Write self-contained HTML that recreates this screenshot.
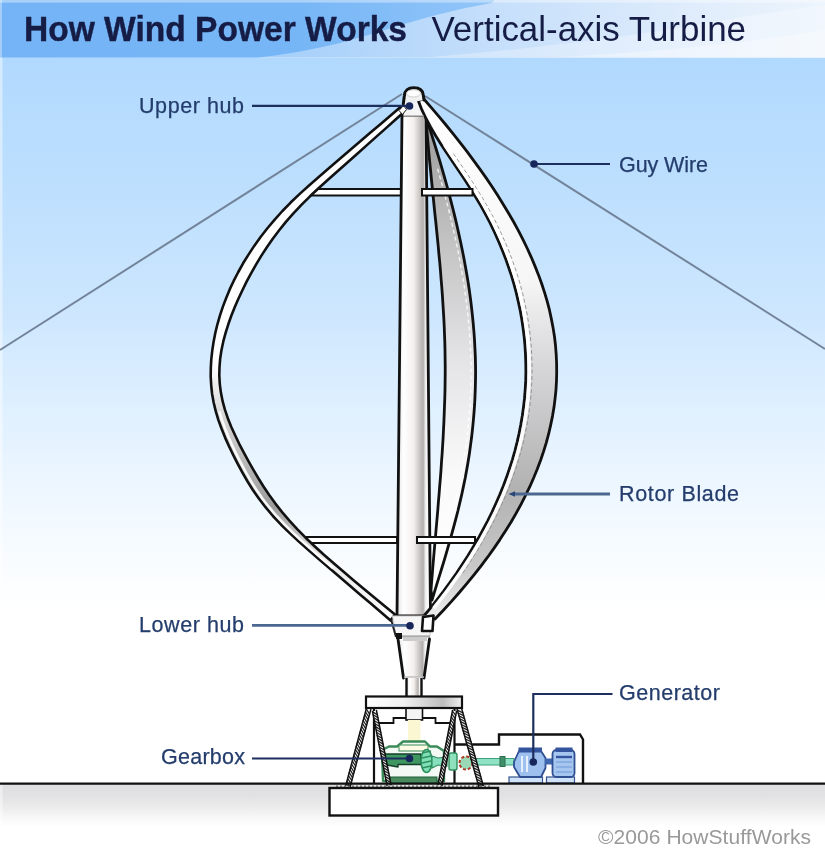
<!DOCTYPE html>
<html><head><meta charset="utf-8"><title>How Wind Power Works - Vertical-axis Turbine</title>
<style>
html,body{margin:0;padding:0;background:#fff;}
body{width:825px;height:859px;overflow:hidden;font-family:"Liberation Sans",sans-serif;}
svg{display:block;}
text{font-family:"Liberation Sans",sans-serif;}
.lbl{font-size:21.5px;fill:#243d6c;stroke:#243d6c;stroke-width:0.25;}
.ld{stroke:#1c2f5e;stroke-width:2.2;fill:none;}
.ld2{stroke:#4a6890;stroke-width:2.8;fill:none;}
.dot{fill:#17275c;}
</style></head>
<body>
<svg width="825" height="859" viewBox="0 0 825 859">
<defs>
<linearGradient id="sky" gradientUnits="userSpaceOnUse" x1="0" y1="58" x2="0" y2="784">
<stop offset="0" stop-color="#b1d9fe"/>
<stop offset="0.2" stop-color="#bfe0fe"/>
<stop offset="0.34" stop-color="#cce6fe"/>
<stop offset="0.47" stop-color="#ddefff"/>
<stop offset="0.58" stop-color="#ecf6ff"/>
<stop offset="0.67" stop-color="#f6fbff"/>
<stop offset="0.76" stop-color="#ffffff"/>
<stop offset="1" stop-color="#ffffff"/>
</linearGradient>
<linearGradient id="hdr" x1="0" y1="0" x2="1" y2="0">
<stop offset="0" stop-color="#9ccbf9"/>
<stop offset="0.35" stop-color="#a6d0fa"/>
<stop offset="0.6" stop-color="#c6dffb"/>
<stop offset="0.85" stop-color="#e2eefc"/>
<stop offset="1" stop-color="#eef5fd"/>
</linearGradient>
<linearGradient id="hdrd" gradientUnits="userSpaceOnUse" x1="0" y1="0" x2="500" y2="0">
<stop offset="0" stop-color="#74b4f6"/>
<stop offset="0.6" stop-color="#77b6f6"/>
<stop offset="1" stop-color="#93c6f9"/>
</linearGradient>
<linearGradient id="gnd" gradientUnits="userSpaceOnUse" x1="0" y1="784" x2="0" y2="859">
<stop offset="0" stop-color="#dfdfe1"/>
<stop offset="0.16" stop-color="#e2e2e4"/>
<stop offset="0.3" stop-color="#ebebec"/>
<stop offset="0.43" stop-color="#f6f6f7"/>
<stop offset="0.57" stop-color="#ffffff"/>
<stop offset="1" stop-color="#ffffff"/>
</linearGradient>
<linearGradient id="col" x1="0" y1="0" x2="1" y2="0">
<stop offset="0" stop-color="#e4e4e4"/>
<stop offset="0.2" stop-color="#ffffff"/>
<stop offset="0.5" stop-color="#f3efec"/>
<stop offset="0.78" stop-color="#b0aeac"/>
<stop offset="0.86" stop-color="#f4f4f4"/>
<stop offset="1" stop-color="#ffffff"/>
</linearGradient>
<linearGradient id="rb" gradientUnits="userSpaceOnUse" x1="0" y1="97" x2="0" y2="619">
<stop offset="0" stop-color="#ffffff"/>
<stop offset="0.35" stop-color="#f6f6f6"/>
<stop offset="0.5" stop-color="#d9d9dc"/>
<stop offset="0.75" stop-color="#b2b2b2"/>
<stop offset="0.9" stop-color="#c8c8c8"/>
<stop offset="1" stop-color="#f0f0f0"/>
</linearGradient>
<linearGradient id="bb" gradientUnits="userSpaceOnUse" x1="0" y1="118" x2="0" y2="600">
<stop offset="0" stop-color="#9a9a9a"/>
<stop offset="0.25" stop-color="#c2c2c2"/>
<stop offset="0.5" stop-color="#e4e4e7"/>
<stop offset="0.75" stop-color="#fafafa"/>
<stop offset="1" stop-color="#ffffff"/>
</linearGradient>
<linearGradient id="lb" gradientUnits="userSpaceOnUse" x1="0" y1="106" x2="0" y2="620">
<stop offset="0" stop-color="#ffffff"/>
<stop offset="0.5" stop-color="#ffffff"/>
<stop offset="0.62" stop-color="#d0d0d0"/>
<stop offset="0.78" stop-color="#9c9c9c"/>
<stop offset="0.88" stop-color="#e8e8e8"/>
<stop offset="1" stop-color="#ffffff"/>
</linearGradient>
<linearGradient id="plat" x1="0" y1="0" x2="1" y2="0">
<stop offset="0" stop-color="#ffffff"/>
<stop offset="0.4" stop-color="#f0f0f0"/>
<stop offset="0.8" stop-color="#bdbdbd"/>
<stop offset="1" stop-color="#efefef"/>
</linearGradient>
<filter id="soft" filterUnits="userSpaceOnUse" x="-20" y="-20" width="865" height="899" color-interpolation-filters="sRGB"><feGaussianBlur stdDeviation="0.65"/></filter>
</defs>
<g filter="url(#soft)">

<!-- background -->
<rect x="-20" y="-20" width="865" height="899" fill="#fff"/>
<rect x="-20" y="57.6" width="865" height="727" fill="url(#sky)"/>
<rect x="-20" y="784" width="865" height="95" fill="url(#gnd)"/>
<rect x="-20" y="58" width="22.5" height="821" fill="#fff" opacity="0.45"/>
<!-- header -->
<rect x="-20" y="-20" width="865" height="77.6" fill="url(#hdr)"/>
<path d="M-20 57.6 L-20 -20 L510 -20 L492 3 C440 12 405 24 375 33 C340 44 305 52 258 57.6 Z" fill="url(#hdrd)"/>
<path d="M430 57 C520 50 620 38 700 24 C760 14 800 8 825 5 L825 57 Z" fill="#ffffff" opacity="0.28"/>
<path d="M560 57 C650 52 740 44 825 30 L825 57 Z" fill="#ffffff" opacity="0.3"/>
<rect x="-20" y="-20" width="865" height="22.6" fill="#ffffff" opacity="0.38"/>
<rect x="-20" y="0" width="22" height="58" fill="#ffffff" opacity="0.35"/>
<text x="24" y="41" font-size="34.5" font-weight="bold" fill="#151c45" stroke="#151c45" stroke-width="0.4" textLength="383" lengthAdjust="spacingAndGlyphs">How Wind Power Works</text>
<text x="431.5" y="41" font-size="34.5" fill="#151c45" textLength="314.5" lengthAdjust="spacingAndGlyphs">Vertical-axis Turbine</text>

<!-- guy wires -->
<line x1="0" y1="350" x2="402" y2="94" stroke="#73849a" stroke-width="2"/>
<line x1="425" y1="96" x2="825" y2="349" stroke="#73849a" stroke-width="2"/>

<!-- back blade -->
<path d="M427.0 120.0 L429.6 128.1 L432.2 136.3 L434.7 144.4 L437.2 152.5 L439.7 160.7 L442.1 168.8 L444.4 176.9 L446.7 185.1 L448.9 193.2 L451.0 201.4 L453.1 209.5 L455.1 217.6 L457.0 225.8 L458.8 233.9 L460.6 242.0 L462.3 250.2 L463.9 258.3 L465.4 266.4 L466.8 274.6 L468.2 282.7 L469.4 290.8 L470.5 299.0 L471.5 307.1 L472.4 315.3 L473.2 323.4 L473.9 331.5 L474.5 339.7 L474.9 347.8 L475.3 355.9 L475.5 364.1 L475.6 372.2 L475.5 380.3 L475.3 388.5 L475.0 396.6 L474.6 404.7 L474.0 412.9 L473.3 421.0 L472.5 429.2 L471.6 437.3 L470.5 445.4 L469.4 453.6 L468.1 461.7 L466.7 469.8 L465.2 478.0 L463.5 486.1 L461.8 494.2 L459.9 502.4 L458.0 510.5 L455.9 518.6 L453.7 526.8 L451.5 534.9 L449.2 543.1 L446.9 551.2 L444.5 559.3 L442.0 567.5 L439.5 575.6 L437.0 583.7 L434.5 591.9 L432.0 600.0 L431.0 590.0 L431.6 582.0 L432.3 574.0 L432.9 566.0 L433.6 558.0 L434.3 550.0 L435.0 542.0 L435.7 534.0 L436.4 526.0 L437.1 518.0 L437.8 510.0 L438.4 502.0 L439.1 494.0 L439.7 486.0 L440.4 478.0 L441.0 470.0 L441.5 462.0 L442.1 454.0 L442.6 446.0 L443.1 438.0 L443.5 430.0 L443.9 422.0 L444.2 414.0 L444.5 406.0 L444.8 398.0 L445.0 390.0 L445.1 382.0 L445.2 374.0 L445.2 366.0 L445.1 358.0 L445.0 350.0 L444.8 342.0 L444.5 334.0 L444.2 326.0 L443.8 318.0 L443.3 310.0 L442.8 302.0 L442.3 294.0 L441.7 286.0 L441.0 278.0 L440.4 270.0 L439.7 262.0 L438.9 254.0 L438.2 246.0 L437.4 238.0 L436.6 230.0 L435.8 222.0 L434.9 214.0 L434.1 206.0 L433.3 198.0 L432.5 190.0 L431.7 182.0 L430.9 174.0 L430.1 166.0 L429.3 158.0 L428.6 150.0 L427.9 142.0 L427.2 134.0 L426.6 126.0 L426.0 118.0 Z" fill="url(#bb)" stroke="#111" stroke-width="2.8" stroke-linejoin="round"/>
<path d="M437.6 168.8 L439.9 176.9 L442.2 185.1 L444.4 193.2 L446.5 201.4 L448.6 209.5 L450.6 217.6 L452.5 225.8 L454.3 233.9 L456.1 242.0 L457.8 250.2 L459.4 258.3 L460.9 266.4 L462.3 274.6 L463.7 282.7 L464.9 290.8 L466.0 299.0 L467.0 307.1 L467.9 315.3 L468.7 323.4 L469.4 331.5 L470.0 339.7 L470.4 347.8 L470.8 355.9 L471.0 364.1 L471.1 372.2 L471.0 380.3 L470.8 388.5 L470.5 396.6 L470.1 404.7 L469.5 412.9 L468.8 421.0 L468.0 429.2 L467.1 437.3 L466.0 445.4 L464.9 453.6 L463.6 461.7 L462.2 469.8 L460.7 478.0 L459.0 486.1 L457.3 494.2 L455.4 502.4 L453.5 510.5 L451.4 518.6 L449.2 526.8 L447.0 534.9 L444.7 543.1 L442.4 551.2 L440.0 559.3 L437.5 567.5" fill="none" stroke="#fff" stroke-width="1.4" stroke-dasharray="4 3" opacity="0.8"/>

<!-- struts left -->
<rect x="306" y="189" width="95" height="6.5" fill="#fff" stroke="#111" stroke-width="2"/>
<rect x="304" y="537" width="93" height="6" fill="#fff" stroke="#111" stroke-width="2"/>

<!-- left blade -->
<path d="M401.1 106.5 L390.9 115.2 L380.7 123.9 L370.5 132.6 L360.3 141.3 L350.1 150.1 L339.9 158.8 L329.7 167.5 L319.6 176.2 L309.6 184.9 L300.0 193.6 L290.9 202.3 L282.4 211.0 L274.5 219.8 L267.2 228.5 L260.4 237.2 L254.2 245.9 L248.5 254.6 L243.1 263.3 L238.3 272.0 L233.8 280.7 L229.7 289.4 L226.1 298.2 L222.8 306.9 L219.9 315.6 L217.4 324.3 L215.3 333.0 L213.6 341.7 L212.3 350.4 L211.3 359.1 L210.8 367.9 L210.7 376.6 L211.2 385.3 L212.1 394.0 L213.7 402.7 L215.8 411.4 L218.4 420.1 L221.6 428.8 L225.1 437.6 L229.0 446.3 L233.2 455.0 L237.6 463.7 L242.3 472.4 L247.3 481.1 L252.7 489.8 L258.8 498.5 L265.5 507.2 L272.9 516.0 L281.1 524.7 L290.0 533.4 L299.4 542.1 L309.3 550.8 L319.3 559.5 L329.5 568.2 L339.7 576.9 L349.9 585.7 L360.0 594.4 L370.2 603.1 L380.4 611.8 L390.6 620.5 L395.0 614.5 L384.6 606.0 L374.3 597.4 L364.0 588.9 L353.8 580.4 L343.6 571.8 L333.7 563.3 L323.9 554.8 L314.6 546.2 L305.6 537.7 L297.2 529.2 L289.4 520.6 L282.1 512.1 L275.4 503.6 L269.2 495.0 L263.5 486.5 L258.2 478.0 L253.1 469.4 L248.3 460.9 L243.7 452.4 L239.2 443.8 L235.1 435.3 L231.2 426.8 L227.8 418.2 L224.9 409.7 L222.6 401.2 L220.9 392.6 L219.8 384.1 L219.3 375.6 L219.5 367.0 L220.2 358.5 L221.5 349.9 L223.3 341.4 L225.6 332.9 L228.3 324.3 L231.3 315.8 L234.7 307.3 L238.4 298.7 L242.4 290.2 L246.6 281.7 L251.2 273.1 L256.0 264.6 L261.1 256.1 L266.7 247.5 L272.6 239.0 L279.0 230.5 L285.9 221.9 L293.4 213.4 L301.4 204.9 L310.0 196.3 L319.1 187.8 L328.5 179.3 L338.1 170.7 L347.7 162.2 L357.3 153.7 L366.9 145.1 L376.4 136.6 L386.0 128.1 L395.6 119.5 L405.2 111.0 Z" fill="url(#lb)" stroke="#111" stroke-width="2.6" stroke-linejoin="round"/>

<path d="M219.4 411.4 L222.0 420.1 L225.2 428.8 L228.7 437.6 L232.6 446.3 L236.8 455.0 L241.2 463.7 L245.9 472.4 L250.9 481.1 L256.3 489.8 L262.4 498.5 L269.1 507.2 L276.5 516.0 L284.7 524.7 L293.6 533.4 L303.0 542.1 L312.9 550.8 L322.9 559.5 L333.1 568.2" fill="none" stroke="#fff" stroke-width="2.6" opacity="0.9"/>

<!-- column -->
<path d="M402 115 L426 115 L430.5 616 L397 616 Z" fill="url(#col)" stroke="#111" stroke-width="2.8" stroke-linejoin="round"/>

<!-- right blade -->
<path d="M403.5 116 L403.5 100 L423.5 99 L424 116 Z" fill="#f5f5f5"/>
<path d="M423.4 98.5 L431.1 107.3 L438.6 116.1 L446.0 125.0 L453.2 133.8 L460.1 142.6 L466.9 151.4 L473.5 160.3 L479.9 169.1 L486.1 177.9 L492.1 186.7 L497.8 195.5 L503.3 204.4 L508.6 213.2 L513.7 222.0 L518.5 230.8 L523.0 239.7 L527.3 248.5 L531.3 257.3 L535.0 266.1 L538.5 274.9 L541.7 283.8 L544.6 292.6 L547.2 301.4 L549.5 310.2 L551.4 319.1 L553.1 327.9 L554.5 336.7 L555.5 345.5 L556.2 354.3 L556.6 363.2 L556.7 372.0 L556.5 380.8 L556.0 389.6 L555.1 398.4 L554.0 407.3 L552.5 416.1 L550.7 424.9 L548.7 433.7 L546.3 442.6 L543.6 451.4 L540.6 460.2 L537.3 469.0 L533.7 477.8 L529.8 486.7 L525.5 495.5 L521.0 504.3 L516.2 513.1 L511.1 522.0 L505.6 530.8 L499.9 539.6 L493.9 548.4 L487.6 557.2 L480.9 566.1 L474.0 574.9 L466.8 583.7 L459.3 592.5 L451.5 601.4 L443.4 610.2 L435.0 619.0 L423.0 617.0 L430.2 608.3 L437.1 599.5 L443.8 590.8 L450.2 582.0 L456.4 573.3 L462.2 564.5 L467.9 555.8 L473.2 547.0 L478.3 538.3 L483.1 529.5 L487.7 520.8 L492.0 512.1 L496.0 503.3 L499.8 494.6 L503.4 485.8 L506.6 477.1 L509.6 468.3 L512.4 459.6 L514.9 450.8 L517.1 442.1 L519.1 433.3 L520.8 424.6 L522.3 415.8 L523.5 407.1 L524.5 398.4 L525.2 389.6 L525.7 380.9 L525.9 372.1 L525.8 363.4 L525.5 354.6 L525.0 345.9 L524.2 337.1 L523.1 328.4 L521.8 319.6 L520.3 310.9 L518.4 302.2 L516.4 293.4 L514.1 284.7 L511.5 275.9 L508.6 267.2 L505.5 258.4 L502.1 249.7 L498.4 240.9 L494.5 232.2 L490.3 223.4 L485.7 214.7 L480.9 205.9 L475.8 197.2 L470.4 188.5 L464.8 179.7 L458.9 171.0 L453.0 162.2 L447.1 153.5 L441.3 144.7 L435.8 136.0 L430.7 127.2 L426.0 118.5 L421.8 109.7 L418.4 101.0 Z" fill="url(#rb)" stroke="#111" stroke-width="2.8" stroke-linejoin="round"/>
<path d="M453.3 153.5 L459.2 162.2 L465.1 171.0 L471.0 179.7 L476.6 188.5 L482.0 197.2 L487.1 205.9 L491.9 214.7 L496.5 223.4 L500.7 232.2 L504.6 240.9 L508.3 249.7 L511.7 258.4 L514.8 267.2 L517.7 275.9 L520.3 284.7 L522.6 293.4 L524.6 302.2 L526.5 310.9 L528.0 319.6 L529.3 328.4 L530.4 337.1 L531.2 345.9 L531.7 354.6 L532.0 363.4 L532.1 372.1 L531.9 380.9 L531.4 389.6 L530.7 398.4 L529.7 407.1 L528.5 415.8 L527.0 424.6 L525.3 433.3 L523.3 442.1 L521.1 450.8 L518.6 459.6 L515.8 468.3 L512.8 477.1 L509.6 485.8 L506.0 494.6 L502.2 503.3 L498.2 512.1 L493.9 520.8 L489.3 529.5 L484.5 538.3 L479.4 547.0 L474.1 555.8 L468.4 564.5 L462.6 573.3" fill="none" stroke="#8c8c8c" stroke-width="1" stroke-dasharray="4 2.5" opacity="0.9"/>
<path d="M444.7 144.7 L450.5 153.5 L456.4 162.2 L462.3 171.0 L468.2 179.7 L473.8 188.5 L479.2 197.2 L484.3 205.9 L489.1 214.7 L493.7 223.4 L497.9 232.2 L501.8 240.9 L505.5 249.7 L508.9 258.4 L512.0 267.2 L514.9 275.9 L517.5 284.7 L519.8 293.4 L521.8 302.2 L523.7 310.9 L525.2 319.6 L526.5 328.4 L527.6 337.1 L528.4 345.9 L528.9 354.6 L529.2 363.4 L529.3 372.1 L529.1 380.9 L528.6 389.6 L527.9 398.4 L526.9 407.1 L525.7 415.8 L524.2 424.6 L522.5 433.3 L520.5 442.1 L518.3 450.8 L515.8 459.6 L513.0 468.3 L510.0 477.1 L506.8 485.8 L503.2 494.6 L499.4 503.3 L495.4 512.1 L491.1 520.8 L486.5 529.5 L481.7 538.3 L476.6 547.0 L471.3 555.8 L465.6 564.5 L459.8 573.3 L453.6 582.0 L447.2 590.8 L440.5 599.5 L433.6 608.3" fill="none" stroke="#fff" stroke-width="3.6" opacity="0.95"/>

<!-- struts right -->
<rect x="422" y="189" width="50.5" height="6.5" fill="#fff" stroke="#111" stroke-width="2"/>
<rect x="417" y="537" width="58" height="6" fill="#fff" stroke="#111" stroke-width="2"/>

<!-- upper hub -->
<path d="M399 110.5 L403.5 105.5 L406.5 109.5 L402.5 114.5 Z" fill="#fff" stroke="#111" stroke-width="1" stroke-linejoin="round"/>
<path d="M403.3 104 L404.3 96 Q405 87.8 413.8 87.8 Q422.6 87.8 423.3 95 L424 100" fill="#f0f0f0" stroke="#111" stroke-width="3" stroke-linejoin="round" stroke-linecap="round"/>
<ellipse cx="413.6" cy="93.4" rx="7" ry="3.6" fill="#fff" stroke="#cfcfcf" stroke-width="1"/>
<line x1="404" y1="116" x2="424" y2="116" stroke="#9a9a9a" stroke-width="1.2"/>

<!-- lower hub -->
<path d="M392.5 616 L431 616 L430 636 L396 636 Z" fill="#f6f6f6" stroke="#c8c8c8" stroke-width="1"/>
<path d="M391 619 L396 637" stroke="#222" stroke-width="2" fill="none"/>
<path d="M396 636.5 L430 636.5" stroke="#aaa" stroke-width="2" fill="none"/>
<path d="M423 617 L433.5 615.5 L432.5 631 L422 631 Z" fill="#fff" stroke="#111" stroke-width="2.6" stroke-linejoin="round"/>
<rect x="396" y="633" width="6" height="6" fill="#111"/>
<!-- cone -->
<path d="M398 640 L429.5 640 L424.5 677 L403 677 Z" fill="url(#col)"/>
<path d="M398 639 L403.5 678 M429.5 639 L424 678" fill="none" stroke="#111" stroke-width="2.8" stroke-linecap="round"/>
<line x1="404" y1="677" x2="424" y2="677" stroke="#bbb" stroke-width="1.4"/>
<rect x="403" y="637" width="24" height="4" fill="#ccc"/>
<rect x="406.5" y="678" width="15" height="19" fill="url(#col)"/>
<path d="M406.5 678 L406.5 697 M421.5 678 L421.5 697" stroke="#111" stroke-width="2.4" fill="none"/>

<!-- generator housing -->
<path d="M455 744.5 L499 744.5 L499 734.5 L580 734.5 L583 739.5 L583 784" fill="none" stroke="#111" stroke-width="2.4" stroke-linejoin="miter"/>
<!-- inner frame -->
<path d="M374 708 L374 784 M454.5 708 L454.5 784" stroke="#111" stroke-width="2.2" fill="none"/>
<path d="M374 723 L393.5 723 L393.5 718 L406 718 M422.5 718 L435.5 718 L435.5 723 L454.5 723" stroke="#111" stroke-width="1.8" fill="none"/>
<!-- shaft below platform -->
<rect x="406" y="708" width="16.5" height="12" fill="#f4f4f4" stroke="#111" stroke-width="1.6"/>
<rect x="408" y="720" width="12.5" height="21" fill="#fbf7d2"/>
<!-- gearbox -->
<path d="M383 781 L382 750 L389 746.5 L397 746.5 L403 741.5 L425 741.5 L430 746.5 L437 746.5 L444 751 L444 781 Z" fill="#f3faf5" stroke="#3b8b59" stroke-width="2.4" stroke-linejoin="round"/>
<rect x="399" y="745" width="29" height="6" fill="#fdfbe4" stroke="#3b8b59" stroke-width="1"/>
<path d="M384.5 754 L421 754 L421 764.5 L398 764.5 L398 767 L384.5 764.5 Z" fill="#3e9660" stroke="#14402a" stroke-width="1.4" stroke-linejoin="round"/>
<rect x="390" y="777" width="47" height="6" fill="#4a8a5c" stroke="#1f5f3a" stroke-width="1"/>
<ellipse cx="426.5" cy="761" rx="5.5" ry="11.5" fill="#7fe0b8" stroke="#2f8f5f" stroke-width="1.6"/>
<path d="M422 753 L431 751 M422 758 L431 756 M422 763 L431 761 M422 768 L431 766" stroke="#2f8f5f" stroke-width="1.4"/>
<path d="M432 756 L438 758 L447 757 L447 766 L438 765 L432 768 Z" fill="#86e0bd" stroke="#2f8f5f" stroke-width="1.2"/>
<rect x="449" y="753" width="8" height="17" rx="2" fill="#8fe0bd" stroke="#2f8f5f" stroke-width="1.4"/>
<circle cx="466" cy="763" r="6.5" fill="#9ad9b5" stroke="#b03a24" stroke-width="2" stroke-dasharray="3 2"/>
<rect x="474" y="758.5" width="40" height="6.5" fill="#8fe3c4" stroke="#3a9f7a" stroke-width="1"/>
<rect x="500" y="756.5" width="5" height="10" fill="#3f8f6a" stroke="#2f6f4f" stroke-width="1"/>
<!-- generator -->
<rect x="509" y="777" width="33.5" height="6" fill="#cfe2f7" stroke="#35548f" stroke-width="1.2"/>
<rect x="546.5" y="777" width="28" height="6" fill="#cfe2f7" stroke="#35548f" stroke-width="1.2"/>
<path d="M514 762 L519 751 L541 751 L545.5 758 L545.5 768 L541 777 L520 777 L514 767 Z" fill="#9dc0ef" stroke="#2f4f93" stroke-width="1.8" stroke-linejoin="round"/>
<rect x="518.5" y="747.5" width="23.5" height="5" fill="#34559d"/>
<path d="M522 756 L522 772 M527 756 L527 772" stroke="#e6f0fc" stroke-width="2"/>
<rect x="545" y="758.5" width="8" height="6" fill="#3f67b0"/>
<rect x="552.5" y="750" width="22" height="27" rx="4" fill="#a6c6f0" stroke="#2f4f93" stroke-width="1.8"/>
<rect x="555.5" y="747.5" width="17" height="4.5" fill="#34559d"/>
<path d="M556 757 L572 757" stroke="#34559d" stroke-width="2.4"/>
<path d="M556 762 L572 762 M556 767 L572 767 M556 772 L572 772" stroke="#6f97d6" stroke-width="1.2"/>

<!-- legs -->
<g fill="none" stroke-linecap="round">
<path d="M368.6 709.0 L348.0 786.0" stroke="#fff" stroke-width="4.6" stroke-linecap="butt"/>
<path d="M366.2 708.9 L369.6 714.1 M365.5 711.8 L368.8 717.0 M364.7 714.7 L368.1 719.9 M363.9 717.6 L367.3 722.8 M363.1 720.5 L366.5 725.7 M362.4 723.4 L365.7 728.6 M361.6 726.3 L365.0 731.5 M360.8 729.2 L364.2 734.4 M360.0 732.1 L363.4 737.3 M359.3 735.0 L362.6 740.2 M358.5 737.9 L361.9 743.1 M357.7 740.8 L361.1 746.0 M356.9 743.7 L360.3 748.9 M356.2 746.6 L359.5 751.8 M355.4 749.5 L358.8 754.6 M354.6 752.4 L358.0 757.5 M353.8 755.3 L357.2 760.4 M353.1 758.2 L356.4 763.3 M352.3 761.1 L355.7 766.2 M351.5 764.0 L354.9 769.1 M350.7 766.9 L354.1 772.0 M350.0 769.7 L353.3 774.9 M349.2 772.6 L352.6 777.8 M348.4 775.5 L351.8 780.7 M347.6 778.4 L351.0 783.6 M346.9 781.3 L350.2 786.5 M346.1 784.2 L350.2 786.6" stroke="#222" stroke-width="1.3"/>
<path d="M370.8 709.6 L350.2 786.6 M366.4 708.4 L345.8 785.4" stroke="#111" stroke-width="1.5"/>
<path d="M459.4 709.0 L481.0 786.0" stroke="#fff" stroke-width="4.6" stroke-linecap="butt"/>
<path d="M457.3 710.1 L462.9 712.8 M458.1 713.0 L463.7 715.7 M458.9 715.9 L464.5 718.6 M459.8 718.8 L465.3 721.5 M460.6 721.7 L466.1 724.4 M461.4 724.5 L466.9 727.3 M462.2 727.4 L467.7 730.2 M463.0 730.3 L468.5 733.1 M463.8 733.2 L469.4 736.0 M464.6 736.1 L470.2 738.8 M465.4 739.0 L471.0 741.7 M466.2 741.9 L471.8 744.6 M467.0 744.8 L472.6 747.5 M467.9 747.7 L473.4 750.4 M468.7 750.5 L474.2 753.3 M469.5 753.4 L475.0 756.2 M470.3 756.3 L475.8 759.1 M471.1 759.2 L476.6 762.0 M471.9 762.1 L477.5 764.8 M472.7 765.0 L478.3 767.7 M473.5 767.9 L479.1 770.6 M474.3 770.8 L479.9 773.5 M475.1 773.6 L480.7 776.4 M476.0 776.5 L481.5 779.3 M476.8 779.4 L482.3 782.2 M477.6 782.3 L483.1 785.1 M478.4 785.2 L483.2 785.4" stroke="#222" stroke-width="1.3"/>
<path d="M461.6 708.4 L483.2 785.4 M457.2 709.6 L478.8 786.6" stroke="#111" stroke-width="1.5"/>
<path d="M374.5 711.0 L389.0 785.0" stroke="#fff" stroke-width="4.0" stroke-linecap="butt"/>
<path d="M372.6 711.9 L377.3 714.6 M373.2 714.8 L377.8 717.6 M373.8 717.8 L378.4 720.5 M374.4 720.7 L379.0 723.5 M374.9 723.7 L379.6 726.4 M375.5 726.6 L380.1 729.4 M376.1 729.5 L380.7 732.3 M376.7 732.5 L381.3 735.2 M377.2 735.4 L381.9 738.2 M377.8 738.4 L382.4 741.1 M378.4 741.3 L383.0 744.1 M379.0 744.3 L383.6 747.0 M379.6 747.2 L384.2 750.0 M380.1 750.1 L384.8 752.9 M380.7 753.1 L385.3 755.9 M381.3 756.0 L385.9 758.8 M381.9 759.0 L386.5 761.7 M382.4 761.9 L387.1 764.7 M383.0 764.9 L387.6 767.6 M383.6 767.8 L388.2 770.6 M384.2 770.8 L388.8 773.5 M384.7 773.7 L389.4 776.5 M385.3 776.6 L389.9 779.4 M385.9 779.6 L390.5 782.4 M386.5 782.5 L391.0 784.6" stroke="#222" stroke-width="1.3"/>
<path d="M376.5 710.6 L391.0 784.6 M372.5 711.4 L387.0 785.4" stroke="#111" stroke-width="1.5"/>
<path d="M454.5 711.0 L440.0 785.0" stroke="#fff" stroke-width="4.0" stroke-linecap="butt"/>
<path d="M452.4 711.1 L455.7 715.4 M451.9 714.1 L455.1 718.4 M451.3 717.0 L454.5 721.3 M450.7 719.9 L453.9 724.2 M450.1 722.9 L453.4 727.2 M449.6 725.8 L452.8 730.1 M449.0 728.8 L452.2 733.1 M448.4 731.7 L451.6 736.0 M447.8 734.7 L451.1 739.0 M447.2 737.6 L450.5 741.9 M446.7 740.5 L449.9 744.8 M446.1 743.5 L449.3 747.8 M445.5 746.4 L448.8 750.7 M444.9 749.4 L448.2 753.7 M444.4 752.3 L447.6 756.6 M443.8 755.3 L447.0 759.6 M443.2 758.2 L446.4 762.5 M442.6 761.2 L445.9 765.5 M442.1 764.1 L445.3 768.4 M441.5 767.0 L444.7 771.3 M440.9 770.0 L444.1 774.3 M440.3 772.9 L443.6 777.2 M439.8 775.9 L443.0 780.2 M439.2 778.8 L442.4 783.1 M438.6 781.8 L442.0 785.4" stroke="#222" stroke-width="1.3"/>
<path d="M456.5 711.4 L442.0 785.4 M452.5 710.6 L438.0 784.6" stroke="#111" stroke-width="1.5"/>
</g>
<!-- platform -->
<rect x="366" y="696.5" width="96" height="11.5" fill="url(#plat)" stroke="#111" stroke-width="2.2"/>

<!-- ground line -->
<line x1="0" y1="783.6" x2="825" y2="783.6" stroke="#111" stroke-width="2.2"/>
<!-- foundation -->
<rect x="329.5" y="788" width="168.5" height="27.5" fill="#fff" stroke="#111" stroke-width="2.4"/>
<line x1="336" y1="786.2" x2="492" y2="786.2" stroke="#666" stroke-width="1.6" stroke-dasharray="2 2"/>

<!-- leaders -->
<line class="ld" x1="252" y1="105.8" x2="408" y2="105.8"/>
<circle class="dot" cx="409.5" cy="106" r="3.8"/>
<line class="ld" x1="534" y1="164" x2="610" y2="164"/>
<circle class="dot" cx="534" cy="164" r="3.8"/>
<line class="ld2" x1="514" y1="494" x2="610" y2="494"/>
<path d="M508.5 494 L515 491.2 L515 496.8 Z" fill="#2a4678"/>
<line class="ld2" x1="252" y1="625.3" x2="408" y2="625.3"/>
<circle class="dot" cx="410" cy="625.8" r="3.8"/>
<path class="ld" d="M612.5 694 L533.3 694 L533.3 762"/>
<circle class="dot" cx="533.3" cy="762" r="3.8"/>
<line class="ld" x1="252" y1="758.5" x2="408" y2="758.5"/>
<circle class="dot" cx="409.5" cy="758.5" r="3.8"/>

<!-- labels -->
<text class="lbl" x="139" y="113" textLength="105" lengthAdjust="spacing">Upper hub</text>
<text class="lbl" x="619" y="171.8" textLength="89" lengthAdjust="spacing">Guy Wire</text>
<text class="lbl" x="619" y="501" textLength="120" lengthAdjust="spacing">Rotor Blade</text>
<text class="lbl" x="139" y="632" textLength="105" lengthAdjust="spacing">Lower hub</text>
<text class="lbl" x="619" y="700" textLength="101" lengthAdjust="spacing">Generator</text>
<text class="lbl" x="161" y="764" textLength="84" lengthAdjust="spacing">Gearbox</text>
<text x="598" y="844" font-size="21" fill="#999999" textLength="213" lengthAdjust="spacing">©2006 HowStuffWorks</text>
</g>
</svg>
</body></html>
